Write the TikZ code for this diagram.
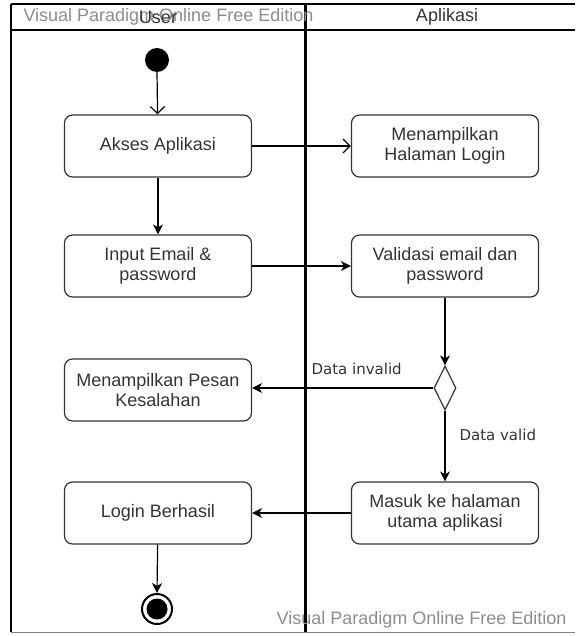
\documentclass[tikz,border=0pt]{standalone}
\usepackage{fontspec}
\setmainfont{Liberation Sans}
\newfontfamily\guardfont{DejaVu Sans}
\usetikzlibrary{arrows.meta,shapes.geometric}

\begin{document}
\begin{tikzpicture}[x=1pt,y=-1pt,
    every node/.style={font=\fontsize{18}{20.5}\selectfont, text=black!80},
    act/.style={draw=black!80, line width=1.2pt, rounded corners=8pt,
      minimum width=187pt, minimum height=62pt, align=center},
    flow/.style={line width=1.2pt, -{Stealth[length=10pt,width=10pt,inset=3pt]}},
    openflow/.style={line width=1.2pt, -{Straight Barb[length=7pt,width=14pt]}},
    guard/.style={font=\guardfont\fontsize{15}{18}\selectfont, text=black!80},
    watermark/.style={font=\fontsize{18}{20}\selectfont, text=black!45}]
    \useasboundingbox (0,0) rectangle (576,636);

    % swimlanes
    \draw[line width=1.5pt] (11,4) -- (575,4);
    \draw[line width=1.5pt] (11,4) -- (11,632);
    \draw[line width=1pt, black!50] (11,632) -- (575,632);
    \draw[line width=2pt] (11,30) -- (575,30);
    \draw[line width=3pt] (305,4) -- (305,632);
    \node[watermark, anchor=west] (wmtop) at (20,17) {Visual Paradigm Online Free Edition};
    \node (laneuser) at (158,17) {User};
    \node (laneapp) at (447,17) {Aplikasi};
    \node[watermark, anchor=east] (wmbot) at (570,620) {Visual Paradigm Online Free Edition};

    % activities
    \fill (157,60) circle[radius=12pt];
    \coordinate (start) at (157,72);
    \node[act] (akses) at (158,146) {Akses Aplikasi};
    \node[act] (login) at (445,146) {Menampilkan\\Halaman Login};
    \node[act] (input) at (158,266) {Input Email \&\\password};
    \node[act] (validasi) at (445,266) {Validasi email dan\\password};
    \node[draw=black!80, line width=1.2pt, diamond, inner sep=0pt,
      minimum width=22pt, minimum height=44pt] (cek) at (445,388) {};
    \node[act] (pesan) at (158,390) {Menampilkan Pesan\\Kesalahan};
    \node[act] (masuk) at (445,513) {Masuk ke halaman\\utama aplikasi};
    \node[act] (berhasil) at (158,513) {Login Berhasil};
    \draw[line width=2pt] (157,609) circle[radius=15pt];
    \fill (157,609) circle[radius=10.5pt];
    \coordinate (end) at (157,593);

    % flows
    \draw[openflow] (start) -- (akses);
    \draw[openflow] (akses) -- (login);
    \draw[flow] (akses) -- (input);
    \draw[flow] (input) -- (validasi);
    \draw[flow] (validasi) -- (cek);
    \draw[flow] (cek.west) -- (pesan.east |- cek.west);
    \node[guard, anchor=south west] (invalid) at (308,378) {Data invalid};
    \draw[flow] (cek) -- (masuk);
    \node[guard, anchor=west] (valid) at (456,435) {Data valid};
    \draw[flow] (masuk) -- (berhasil);
    \draw[flow] (berhasil) -- (end);
\end{tikzpicture}
\end{document}
